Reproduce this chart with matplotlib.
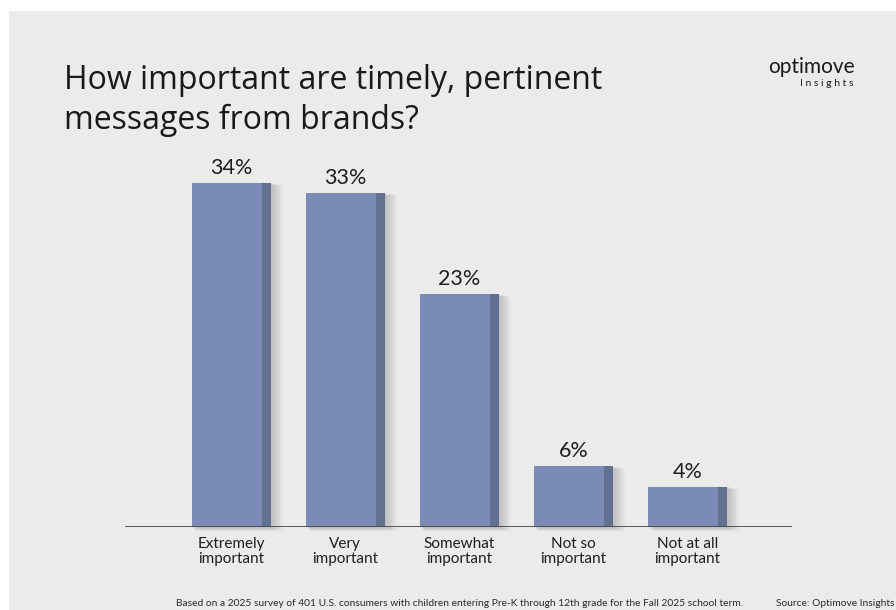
import matplotlib.pyplot as plt
from matplotlib.patches import Rectangle

# survey answers and shares (%)
categories = ["Extremely\nimportant", "Very\nimportant", "Somewhat\nimportant",
              "Not so\nimportant", "Not at all\nimportant"]
shares = [34, 33, 23, 6, 4]
value_labels = ["34%", "33%", "23%", "6%", "4%"]
title_lines = ["How important are timely, pertinent", "messages from brands?"]

W, H = 896, 610
bg = "#ebebeb"
face = "#7a8cb5"
side = "#627192"
font = "Lato"

fig = plt.figure(figsize=(W / 100, H / 100), dpi=100, facecolor="white")
fig.patches.append(Rectangle((9 / W, 0), 1, 1 - 11 / H, transform=fig.transFigure,
                             facecolor=bg, edgecolor="none", zorder=-10))

# axes placed in pixel terms: baseline at y=527, 10.12 px per percent
ax = fig.add_axes([125 / W, (H - 527) / H, (792 - 125) / W, 404.8 / H])
ax.set_facecolor("none")
ax.set_xlim(-0.929, 4.916)
ax.set_ylim(0, 40)
for s in ax.spines.values():
    s.set_visible(False)
ax.set_xticks([])
ax.set_yticks([])
ax.axhline(0, color="#4a4a4a", lw=1.3, zorder=5)

px = 1 / 114.1       # one pixel in x data units
py = 40 / 404.8      # one pixel in y data units
bw = 79 * px
sw = 9 * px

for i, (v, lab) in enumerate(zip(shares, value_labels)):
    x0 = i - bw / 2
    # soft shadow to the right
    for k in range(1, 9):
        ax.add_patch(Rectangle((x0 + k * 0.6 * px, -k * 0.5 * py), bw + k * 0.9 * px,
                               v + k * 0.2 * py, facecolor="black", alpha=0.025,
                               edgecolor="none", zorder=1, clip_on=False))
    ax.add_patch(Rectangle((x0, 0), bw - sw, v, facecolor=face, edgecolor="none", zorder=2))
    ax.add_patch(Rectangle((x0 + bw - sw, 0), sw, v, facecolor=side, edgecolor="none", zorder=2))
    ax.text(i, v + 5 * py, lab, ha="center", va="bottom", fontsize=15.5,
            family=font, color="#1e1e1e")
    ax.text(i, -10 * py, categories[i], ha="center", va="top", fontsize=11,
            family=font, color="#1e1e1e", linespacing=1.1)

for j, line in enumerate(title_lines):
    fig.text(64 / W, 1 - (89 + 40 * j) / H, line, ha="left", va="baseline",
             fontsize=23, family="Open Sans", color="#1a1a1a")

fig.text(855 / W, 1 - 67 / H, "optimove", ha="right", va="center", fontsize=15,
         family=font, color="#1a1a1a")
fig.text(853 / W, 1 - 84 / H, "I n s i g h t s", ha="right", va="center", fontsize=7.5,
         family=font, color="#1a1a1a")

fig.text(176 / W, 1 - 604 / H,
         "Based on a 2025 survey of 401 U.S. consumers with children entering Pre-K through "
         "12th grade for the Fall 2025 school term.",
         ha="left", va="center", fontsize=7.4, family=font, color="#2a2a2a")
fig.text(894 / W, 1 - 604 / H, "Source: Optimove Insights", ha="right", va="center",
         fontsize=7.4, family=font, color="#2a2a2a")

fig.savefig("out.png", dpi=100, facecolor="white")
